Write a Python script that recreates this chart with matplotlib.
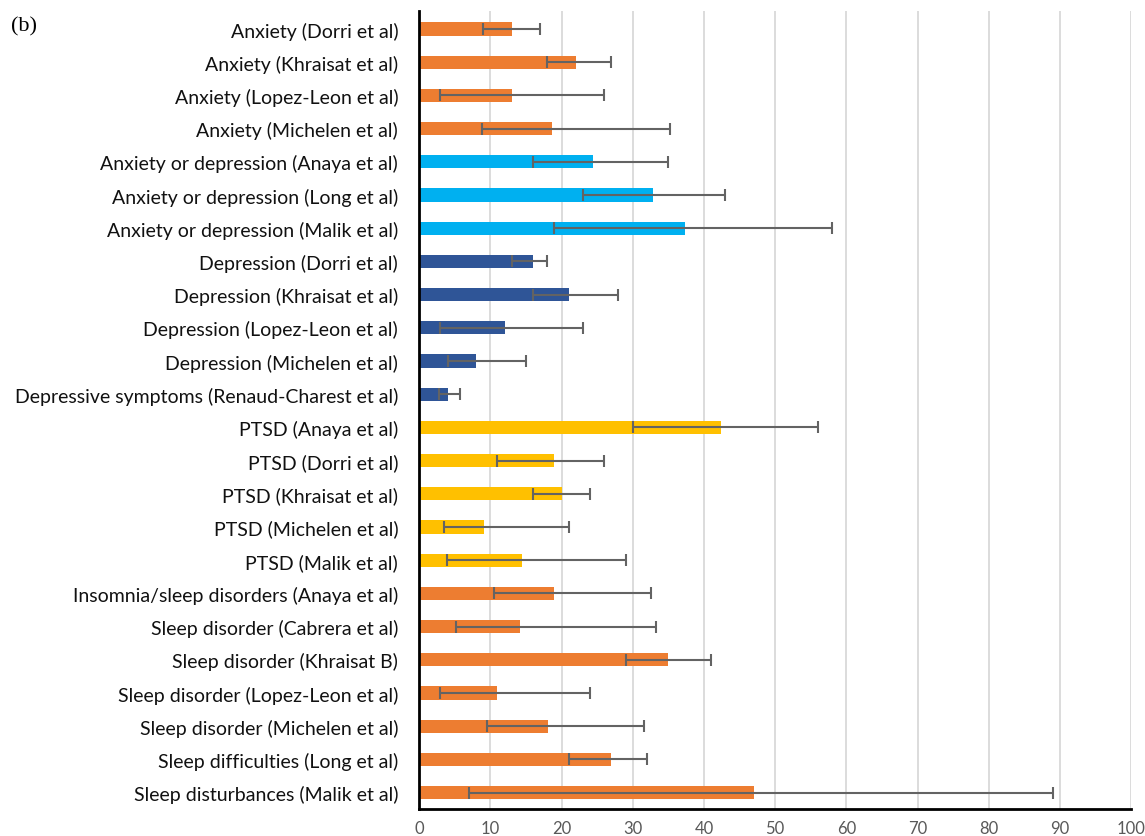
import matplotlib
matplotlib.use("Agg")
import matplotlib.pyplot as plt

# outcome labels, top to bottom
labels = [
    "Anxiety (Dorri et al)",
    "Anxiety (Khraisat et al)",
    "Anxiety (Lopez-Leon et al)",
    "Anxiety (Michelen et al)",
    "Anxiety or depression (Anaya et al)",
    "Anxiety or depression (Long et al)",
    "Anxiety or depression (Malik et al)",
    "Depression (Dorri et al)",
    "Depression (Khraisat et al)",
    "Depression (Lopez-Leon et al)",
    "Depression (Michelen et al)",
    "Depressive symptoms (Renaud-Charest et al)",
    "PTSD (Anaya et al)",
    "PTSD (Dorri et al)",
    "PTSD (Khraisat et al)",
    "PTSD (Michelen et al)",
    "PTSD (Malik et al)",
    "Insomnia/sleep disorders (Anaya et al)",
    "Sleep disorder (Cabrera et al)",
    "Sleep disorder (Khraisat B)",
    "Sleep disorder (Lopez-Leon et al)",
    "Sleep disorder (Michelen et al)",
    "Sleep difficulties (Long et al)",
    "Sleep disturbances (Malik et al)",
]

# pooled prevalence (%) with lower / upper confidence limits
prevalence = [13, 22, 13, 18.7, 24.4, 32.9, 37.4, 16, 21, 12, 8, 4,
              42.4, 19, 20, 9.1, 14.4, 19, 14.2, 35, 11, 18.1, 27, 47]
ci_low = [9, 18, 3, 8.8, 16, 23, 19, 13, 16, 3, 4, 2.8,
          30, 11, 16, 3.5, 3.9, 10.5, 5.2, 29, 3, 9.6, 21, 7]
ci_high = [17, 27, 26, 35.3, 35, 43, 58, 18, 28, 23, 15, 5.8,
           56, 26, 24, 21, 29, 32.6, 33.2, 41, 24, 31.6, 32, 89]

# outcome group for each row
groups = ["anx"] * 4 + ["mixed"] * 3 + ["dep"] * 5 + ["ptsd"] * 5 + ["sleep"] * 7
group_colors = {
    "anx": "#ED7D31",
    "mixed": "#00B0F0",
    "dep": "#2F5597",
    "ptsd": "#FFC000",
    "sleep": "#ED7D31",
}

plt.rcParams["font.family"] = ["Lato", "DejaVu Sans"]

fig = plt.figure(figsize=(11.45, 8.37), dpi=100)
ax = fig.add_axes([0.366, 0.032, 0.622, 0.954])

ypos = list(range(len(labels)))
colors = [group_colors[g] for g in groups]
xerr = [[p - lo for p, lo in zip(prevalence, ci_low)],
        [hi - p for p, hi in zip(prevalence, ci_high)]]

ax.barh(ypos, prevalence, height=0.4, color=colors, zorder=2)
ax.errorbar(prevalence, ypos, xerr=xerr, fmt="none", ecolor="#636363",
            elinewidth=1.5, capsize=4, capthick=1.5, zorder=3)

ax.set_xlim(0, 100)
ax.set_ylim(len(labels) - 0.5, -0.55)
ax.set_xticks(range(0, 101, 10))
ax.set_yticks(ypos)
ax.set_yticklabels(labels, fontsize=14, color="#111111")
ax.tick_params(axis="x", labelsize=12, labelcolor="#595959", length=0, pad=8)
ax.tick_params(axis="y", length=0, pad=15)

ax.grid(axis="x", color="#D9D9D9", linewidth=1.3, zorder=0)
ax.set_axisbelow(True)
for side in ("top", "right"):
    ax.spines[side].set_visible(False)
ax.spines["left"].set_linewidth(2)
ax.spines["bottom"].set_linewidth(2)
ax.spines["left"].set_color("black")
ax.spines["bottom"].set_color("black")

fig.text(0.010, 0.968, "(b)", fontsize=16, family="Liberation Serif", va="center")

fig.savefig("out.png", dpi=100)
